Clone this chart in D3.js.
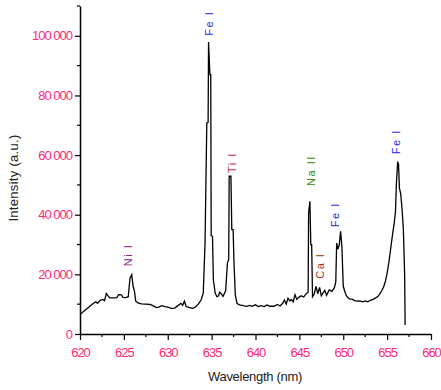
<!DOCTYPE html>
<html>
<head>
<meta charset="utf-8">
<script src="https://cdn.jsdelivr.net/npm/d3@7"></script>
<style>
  body { margin: 0; background: #fff; }
  svg { display: block; font-family: "Liberation Sans", Arial, sans-serif; }
</style>
</head>
<body>
<svg id="chart" width="441" height="390"></svg>
<script>
// spectrum (nm, counts)
const wavelength = [
  620.0, 620.5, 621.0, 621.5, 621.8, 622.0, 622.3, 622.6, 622.8, 623.0, 623.2, 623.4, 623.8, 624.2, 624.4, 624.7, 624.9, 625.2, 625.5, 625.7,
  625.9, 626.05, 626.2, 626.35, 626.6, 627.0, 627.5, 628.0, 628.3, 628.7, 629.0, 629.3, 629.7, 630.0, 630.4, 630.8, 631.2, 631.5, 631.7, 631.9,
  632.1, 632.4, 632.8, 633.1, 633.5, 633.8, 634.05, 634.25, 634.45, 634.6, 634.65, 634.8, 634.9, 634.95, 635.1, 635.2, 635.4, 635.6, 635.8, 635.9,
  636.1, 636.3, 636.6, 636.8, 636.95, 637.0, 637.2, 637.3, 637.45, 637.55, 637.7, 637.9, 638.2, 638.6, 639.0, 639.3, 639.6, 640.0, 640.3, 640.6,
  641.0, 641.3, 641.7, 642.1, 642.5, 642.8, 643.1, 643.3, 643.5, 643.7, 643.9, 644.1, 644.3, 644.5, 644.7, 644.9, 645.2, 645.5, 645.8, 646.0,
  646.05, 646.2, 646.3, 646.4, 646.5, 646.7, 646.9, 647.1, 647.3, 647.5, 647.7, 647.9, 648.1, 648.4, 648.7, 649.0, 649.15, 649.25, 649.4, 649.55,
  649.7, 649.85, 650.0, 650.2, 650.4, 650.7, 651.0, 651.3, 651.6, 651.9, 652.2, 652.5, 652.8, 653.1, 653.4, 653.7, 654.0, 654.2, 654.4, 654.6,
  654.8, 655.0, 655.2, 655.4, 655.6, 655.8, 655.95, 656.05, 656.2, 656.3, 656.4, 656.55, 656.7, 656.85, 656.95, 657.0, 657.05
];
const intensity = [
  6500, 7800, 9000, 10200, 10800, 10300, 11300, 11600, 11200, 13600, 12800, 12100, 12100, 12200, 13200, 13100, 12300, 12200, 12500, 18800,
  19900, 16000, 14500, 11000, 10400, 10100, 10000, 9900, 9500, 8900, 9000, 9500, 9200, 9000, 8600, 8700, 9600, 10300, 9600, 11000,
  9200, 8900, 8600, 8900, 10100, 11400, 13800, 30500, 70800, 71000, 97900, 87000, 87000, 33000, 32700, 18200, 13800, 12500, 12800, 14000,
  13500, 12600, 14500, 23800, 25000, 52900, 52900, 35000, 35000, 23800, 13000, 10200, 9800, 9500, 9300, 9600, 9300, 9800, 9200, 9500,
  9200, 9700, 9300, 9300, 9900, 9400, 10300, 11400, 10000, 12000, 11100, 11500, 10800, 13200, 11600, 12200, 12800, 12400, 13600, 14000,
  40500, 44500, 30000, 30000, 12500, 13500, 16000, 13500, 15600, 12800, 13800, 14600, 13000, 14800, 14300, 15600, 17500, 30500, 28500, 30000,
  34400, 29000, 16000, 14000, 12600, 11800, 11700, 11200, 11000, 11100, 10800, 11100, 10800, 11300, 11600, 12100, 12700, 13600, 14600, 15800,
  17600, 20400, 24000, 28500, 33000, 37000, 41000, 50000, 57800, 57000, 49000, 47000, 42000, 35000, 25000, 19000, 3000
];

// emission line labels (placed just beside each peak)
const lineNames = ["Ni I", "Fe I", "Ti I", "Na II", "Ca I", "Fe I", "Fe I"];
const labelWavelength = [625.93, 635.16, 637.78, 646.78, 647.81, 649.52, 656.47];
const labelIntensity = [26500, 104200, 57500, 54800, 22900, 40000, 64500];
const lineColors = ["#8a1a8a", "#2a2af0", "#c8285a", "#3a8a10", "#a83010", "#2a2af0", "#2a2af0"];

const xTicks = [620, 625, 630, 635, 640, 645, 650, 655, 660];
const xMinor = [622.5, 627.5, 632.5, 637.5, 642.5, 647.5, 652.5, 657.5];
const yTicks = [0, 20000, 40000, 60000, 80000, 100000];
const yTickLabels = ["0", "20 000", "40 000", "60 000", "80 000", "100 000"];
const yMinor = [10000, 30000, 50000, 70000, 90000, 110000];

const svg = d3.select("#chart");
const tickColor = "#ff2a78";

const x = d3.scaleLinear().domain([620, 660]).range([80, 431]);
const y = d3.scaleLinear().domain([0, 110000]).range([334, 6]);

// x axis
const xAxis = svg.append("g").attr("transform", `translate(0,${y(0)})`);
xAxis.call(d3.axisBottom(x).tickValues(xTicks).tickFormat(d3.format("d")).tickSize(6).tickSizeOuter(0));
xAxis.append("g").selectAll("line").data(xMinor).enter().append("line")
  .attr("x1", d => x(d)).attr("x2", d => x(d)).attr("y1", 0).attr("y2", 3)
  .attr("stroke", "#000").attr("stroke-width", 1.2);

// y axis
const yAxis = svg.append("g").attr("transform", `translate(${x(620)},0)`);
yAxis.call(d3.axisLeft(y).tickValues(yTicks).tickFormat((d, i) => yTickLabels[i]).tickSize(5).tickSizeOuter(0));
yAxis.append("g").selectAll("line").data(yMinor).enter().append("line")
  .attr("y1", d => y(d)).attr("y2", d => y(d)).attr("x1", 0).attr("x2", -3)
  .attr("stroke", "#000").attr("stroke-width", 1.2);

// axis styling
svg.selectAll(".domain").attr("stroke", "#000").attr("stroke-width", 1.5);
svg.selectAll(".tick line").attr("stroke", "#000").attr("stroke-width", 1.2);
svg.selectAll(".tick text")
  .attr("fill", tickColor)
  .style("font-size", "13px")
  .style("letter-spacing", "-1px");
xAxis.selectAll(".tick text").attr("dy", "1.05em");

// spectrum line
const points = wavelength.map((w, i) => [w, intensity[i]]);
svg.append("path")
  .datum(points)
  .attr("fill", "none")
  .attr("stroke", "#000")
  .attr("stroke-width", 1.3)
  .attr("stroke-linejoin", "miter")
  .attr("d", d3.line().x(d => x(d[0])).y(d => y(d[1])));

// element labels, rotated
lineNames.forEach((name, i) => {
  svg.append("text")
    .attr("transform", `translate(${x(labelWavelength[i])},${y(labelIntensity[i])}) rotate(-90)`)
    .attr("text-anchor", "middle")
    .attr("fill", lineColors[i])
    .style("font-size", "11px")
    .style("letter-spacing", "1.5px")
    .text(name);
});

// axis titles
svg.append("text")
  .attr("x", 255).attr("y", 381)
  .attr("text-anchor", "middle")
  .attr("fill", "#222")
  .style("font-size", "13px")
  .style("letter-spacing", "-0.3px")
  .text("Wavelength (nm)");

svg.append("text")
  .attr("transform", "translate(18,178) rotate(-90)")
  .attr("text-anchor", "middle")
  .attr("fill", "#222")
  .style("font-size", "13px")
  .style("letter-spacing", "0.3px")
  .text("Intensity (a.u.)");
</script>
</body>
</html>
